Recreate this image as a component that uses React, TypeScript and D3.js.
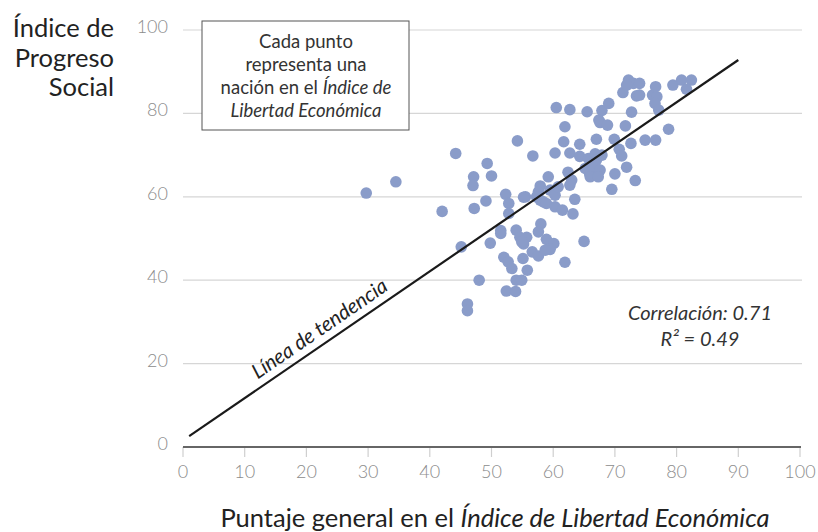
import * as d3 from 'd3'
import React from 'react'

// puntos: [libertad económica, progreso social]
const libertad = [
  29.7, 34.5, 42.0, 44.2, 45.1, 46.1, 46.1, 47.1, 47.0, 47.2, 48.0, 49.1, 49.3, 50.0, 49.8,
  51.5, 51.5, 52.3, 52.8, 52.8, 52.0, 52.7, 53.3, 52.4, 53.9, 54.0, 54.9, 54.0, 54.6, 55.7,
  55.2, 54.9, 55.1, 55.8, 54.2, 55.5, 55.2, 56.7, 56.6, 57.6, 58.0, 57.6, 57.9, 57.6, 57.3,
  57.9, 58.4, 58.9, 58.9, 60.1, 59.5, 58.7, 59.2, 59.5, 60.3, 60.8, 60.3, 61.5, 60.5, 60.3,
  61.9, 61.7, 61.9, 62.7, 62.7, 62.4, 62.7, 63.0, 63.5, 63.2, 64.3, 64.3, 65.0, 65.5, 65.9,
  65.2, 65.7, 66.8, 67.0, 67.9, 67.0, 66.5, 67.6, 66.0, 67.3, 67.9, 67.4, 67.6, 68.8, 69.0,
  69.9, 70.7, 71.1, 70.0, 69.5, 71.9, 73.3, 71.7, 72.7, 72.6, 71.3, 72.2, 73.0, 74.0, 71.9,
  73.5, 74.0, 74.9, 76.6, 76.1, 76.8, 76.5, 77.1, 76.6, 78.7, 79.4, 80.8, 82.4, 81.6
]
const progreso = [
  60.9, 63.6, 56.5, 70.4, 48.0, 34.3, 32.7, 64.8, 62.7, 57.2, 40.0, 59.0, 68.0, 65.0, 48.9,
  51.9, 51.2, 60.6, 58.4, 56.0, 45.5, 44.4, 42.8, 37.4, 37.3, 40.0, 40.0, 52.0, 50.3, 50.3,
  48.7, 49.2, 45.2, 42.4, 73.4, 60.0, 59.9, 69.8, 46.8, 45.8, 53.5, 51.6, 62.6, 61.2, 60.0,
  59.2, 58.8, 58.4, 49.8, 48.8, 47.4, 47.2, 64.8, 61.6, 60.4, 62.4, 57.6, 56.8, 81.4, 70.5,
  76.8, 73.2, 44.3, 80.9, 70.5, 65.9, 62.8, 64.0, 59.4, 55.9, 72.6, 69.7, 49.3, 80.4, 65.6,
  66.8, 69.2, 70.3, 73.8, 70.0, 68.8, 67.2, 66.4, 64.8, 64.8, 80.7, 78.4, 77.8, 77.2, 82.4,
  73.8, 71.4, 69.8, 65.5, 61.8, 67.1, 63.9, 77.0, 80.3, 72.8, 85.0, 88.0, 87.2, 87.2, 86.8,
  84.2, 84.4, 73.6, 73.6, 84.4, 84.0, 82.4, 80.8, 86.4, 76.2, 86.8, 88.0, 88.0, 85.8
]

const tendenciaX = [1, 90]
const tendenciaY = [2.6, 92.8]

const xTicks = [0, 10, 20, 30, 40, 50, 60, 70, 80, 90, 100]
const yTicks = [20, 40, 60, 80, 100]
const yLabels = [0, 20, 40, 60, 80, 100]

const tituloY = ['Índice de', 'Progreso', 'Social']
const notaCaja = ['Cada punto', 'representa una']

const FONT = 'Lato, "Open Sans", sans-serif'

export default function App() {
  const width = 818
  const height = 532
  const x = d3.scaleLinear().domain([0, 100]).range([183, 800])
  const y = d3.scaleLinear().domain([0, 100]).range([447, 30])

  const puntos = libertad.map((v, i) => ({ x: v, y: progreso[i] }))
  const linea = d3
    .line<number>()
    .x(d => x(tendenciaX[d]))
    .y(d => y(tendenciaY[d]))

  const ang =
    (Math.atan2(y(tendenciaY[1]) - y(tendenciaY[0]), x(tendenciaX[1]) - x(tendenciaX[0])) * 180) /
    Math.PI
  const lx = 23.5
  const ly = tendenciaY[0] + ((tendenciaY[1] - tendenciaY[0]) * (lx - tendenciaX[0])) / (tendenciaX[1] - tendenciaX[0])

  return (
    <svg
      width={width}
      height={height}
      style={{ position: 'absolute', left: 0, top: 0, background: '#fff' }}
      fontFamily={FONT}
    >
      {/* rejilla */}
      {yTicks.map(t => (
        <line key={t} x1={x(0)} x2={x(100) + 2} y1={y(t)} y2={y(t)} stroke="#d6d6d6" strokeWidth={1.2} />
      ))}
      {xTicks.map(t => (
        <line key={t} x1={x(t)} x2={x(t)} y1={y(0)} y2={y(0) + 10} stroke="#cfcfcf" strokeWidth={1.2} />
      ))}
      <line x1={x(0)} x2={x(100) + 1} y1={y(0)} y2={y(0)} stroke="#666" strokeWidth={2} />

      {yLabels.map(t => (
        <text key={t} x={168} y={y(t) + 3} textAnchor="end" fontSize={18} fontWeight={300} fill="#8c8c8c">
          {t}
        </text>
      ))}
      {xTicks.map(t => (
        <text key={t} x={x(t)} y={478} textAnchor="middle" fontSize={18} fontWeight={300} fill="#8c8c8c">
          {t}
        </text>
      ))}

      {tituloY.map((s, i) => (
        <text key={s} x={114} y={37 + i * 29.7} textAnchor="end" fontSize={25.5} fill="#222">
          {s}
        </text>
      ))}
      <text x={495} y={527} textAnchor="middle" fontSize={25.5} fill="#222">
        Puntaje general en el <tspan fontStyle="italic">Índice de Libertad Económica</tspan>
      </text>

      {/* puntos */}
      {puntos.map((p, i) => (
        <circle key={i} cx={x(p.x)} cy={y(p.y)} r={5.8} fill="#8a9cc9" />
      ))}

      <path d={linea([0, 1]) || ''} stroke="#1a1a1a" strokeWidth={2.2} fill="none" />
      <g transform={`translate(${x(lx)},${y(ly)}) rotate(${ang})`}>
        <text y={-8} textAnchor="middle" fontSize={20.5} fontStyle="italic" fill="#222">
          Línea de tendencia
        </text>
      </g>

      <text x={700} y={320} textAnchor="middle" fontSize={20} fontStyle="italic" fill="#333">
        Correlación: 0.71
      </text>
      <text x={700} y={346} textAnchor="middle" fontSize={20} fontStyle="italic" fill="#333">
        R² = 0.49
      </text>

      {/* caja de nota */}
      <rect x={202} y={21} width={207} height={109} fill="#fff" stroke="#555" strokeWidth={1} />
      {notaCaja.map((s, i) => (
        <text key={s} x={306} y={48 + i * 23} textAnchor="middle" fontSize={18.5} fill="#333">
          {s}
        </text>
      ))}
      <text x={306} y={94} textAnchor="middle" fontSize={18.5} fill="#333">
        nación en el <tspan fontStyle="italic">Índice de</tspan>
      </text>
      <text x={306} y={117} textAnchor="middle" fontSize={18.5} fontStyle="italic" fill="#333">
        Libertad Económica
      </text>
    </svg>
  )
}
